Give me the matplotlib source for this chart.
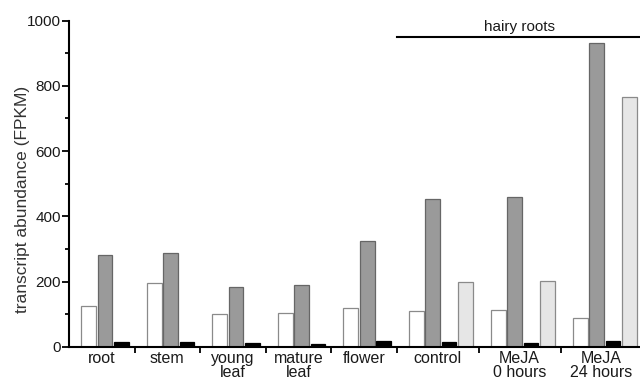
import matplotlib.pyplot as plt
import numpy as np

plt.rcParams['font.family'] = ['Liberation Sans', 'DejaVu Sans']

# Group labels
groups = ["root", "stem", "young\nleaf", "mature\nleaf", "flower",
          "control", "MeJA\n0 hours", "MeJA\n24 hours"]

# Transcript abundance (FPKM) per series
white_vals = [125, 196, 99, 102, 118, 110, 113, 89]
gray_vals = [281, 288, 184, 189, 325, 452, 460, 931]
black_vals = [13, 15, 12, 9, 17, 15, 12, 17]
# light grey series only exists for the hairy root samples
light_vals = [198, 201, 767]
n_tissue = 5

# group layout: tissue groups hold 3 bars, hairy root groups 4 bars, plus one gap slot
sizes = [4] * n_tissue + [5] * (len(groups) - n_tissue)
starts = np.concatenate([[0], np.cumsum(sizes)[:-1]])
offset = 1.2
bw = 0.9

fig = plt.figure(figsize=(6.4, 3.81), dpi=100)
ax = fig.add_axes([69 / 640, 34.3 / 381, 1 - 69 / 640, (346.7 - 20.7) / 381])

ax.bar(starts + offset, white_vals, bw, color='white', edgecolor='#8a8a8a', linewidth=0.9)
ax.bar(starts + offset + 1, gray_vals, bw, color='#9a9a9a', edgecolor='#666666', linewidth=0.9)
ax.bar(starts + offset + 2, black_vals, bw, color='black', edgecolor='black', linewidth=0.9)
ax.bar(starts[n_tissue:] + offset + 3, light_vals, bw, color='#e6e6e6', edgecolor='#8a8a8a', linewidth=0.9)

ax.set_xlim(0, 34.85)
ax.set_ylim(0, 1000)
ax.set_yticks([0, 200, 400, 600, 800, 1000])
ax.set_yticks(np.arange(100, 1000, 200), minor=True)
ax.set_xticks(starts + np.array(sizes) / 2)
ax.set_xticklabels(groups, fontsize=11.5, linespacing=0.9, color='#1a1a1a')
ax.set_xticks(np.cumsum(sizes)[:-1], minor=True)
ax.tick_params(axis='x', which='major', length=0, pad=3)
ax.tick_params(axis='x', which='minor', length=4, width=1.3, direction='out')
ax.tick_params(axis='y', which='major', length=5, width=1.3, labelsize=11, pad=1,
               labelcolor='#1a1a1a')
ax.tick_params(axis='y', which='minor', length=3, width=1.3)
ax.set_ylabel('transcript abundance (FPKM)', fontsize=12.5, color='#333333')
ax.yaxis.set_label_coords(-0.068, 0.453)

for s in ['top', 'right']:
    ax.spines[s].set_visible(False)
for s in ['left', 'bottom']:
    ax.spines[s].set_linewidth(1.5)

# hairy roots bracket
h0 = starts[n_tissue]
ax.plot([h0, 35], [949, 949], color='black', linewidth=1.5, clip_on=False)
ax.text(27.5, 958, 'hairy roots', ha='center', va='bottom', fontsize=11, color='#1a1a1a')

fig.savefig('out.png', dpi=100)
